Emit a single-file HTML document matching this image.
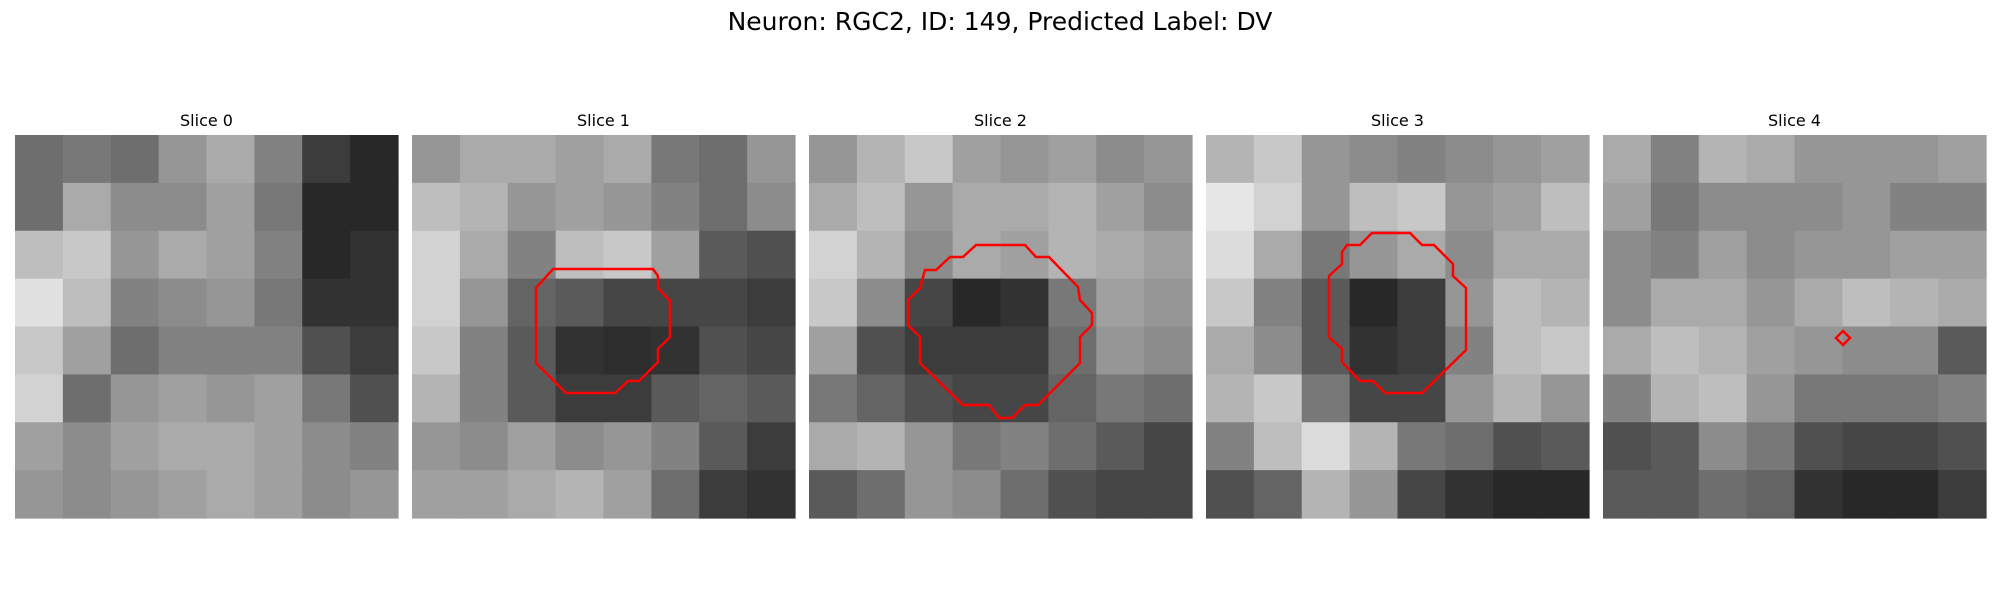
<!DOCTYPE html>
<html><head><meta charset="utf-8"><style>
body{margin:0;background:#fff;width:2000px;height:600px;overflow:hidden;font-family:"Liberation Sans","DejaVu Sans",sans-serif}
</style></head><body>
<svg id="fig" width="2000" height="600" xmlns="http://www.w3.org/2000/svg">
<text x="1000" y="30" text-anchor="middle" font-size="25" font-family="DejaVu Sans, sans-serif" fill="#000">Neuron: RGC2, ID: 149, Predicted Label: DV</text>
<g id="panels"></g>
</svg>
<script>
const sliceTitles = ["Slice 0","Slice 1","Slice 2","Slice 3","Slice 4"];
const slice0 = [
[110,120,110,150,170,130,60,40],[110,170,140,140,160,120,40,40],[190,200,150,170,160,130,40,50],[225,190,130,140,150,120,50,50],
[200,160,110,130,130,130,80,60],[210,110,150,160,150,160,120,80],[160,140,160,170,170,160,140,130],[150,140,150,160,170,160,140,150]];
const slice1 = [
[150,170,170,160,170,120,110,150],[190,180,150,160,150,130,110,140],[210,170,130,190,200,160,90,80],[210,150,100,90,70,70,70,60],
[200,130,90,50,45,50,80,70],[180,130,90,60,60,90,100,90],[150,140,160,140,150,130,90,60],[160,160,170,180,160,110,60,50]];
const slice2 = [
[150,180,200,160,150,160,140,150],[170,190,150,170,170,180,160,140],[210,180,140,170,160,180,170,160],[200,140,70,40,50,120,160,150],
[160,80,60,60,60,110,150,140],[120,100,80,70,70,100,120,110],[170,180,150,120,130,110,90,70],[90,110,150,140,110,80,70,70]];
const slice3 = [
[180,200,150,140,130,140,150,160],[230,210,150,190,200,150,160,190],[220,170,120,150,170,140,170,170],[200,130,90,40,60,150,190,180],
[170,140,90,50,60,130,190,200],[180,200,120,70,70,150,180,150],[130,190,220,180,120,110,80,90],[80,100,180,150,70,50,40,40]];
const slice4 = [
[170,130,180,170,150,150,150,160],[160,120,140,140,140,150,130,130],[140,130,160,140,150,150,160,160],[140,170,170,150,170,190,180,170],
[170,190,180,160,150,140,140,90],[130,180,190,150,120,120,120,130],[80,90,140,120,80,70,70,80],[90,90,110,100,50,40,40,60]];
const slices = [slice0,slice1,slice2,slice3,slice4];
const contour1 = [[553,269],[653,269],[658,276],[658,288],[670,301],[670,337],[658,349],[658,362],[639,381],[628,381],[615,393],[566,393],[536,363],[536,288]];
const contour2 = [[976,245],[1025,245],[1036,257],[1049,257],[1078,287],[1080,300],[1092,313],[1092,325],[1080,337],[1080,363],[1038,405],[1025,405],[1012,418],[999,418],[989,405],[963,405],[920,363],[920,337],[908,325],[908,300],[920,288],[925,270],[936,270],[950,257],[963,257]];
const contour3 = [[1372,233],[1410,233],[1422,245],[1434,245],[1453,264],[1453,276],[1466,288],[1466,350],[1422,393],[1385,393],[1373,381],[1360,381],[1342,362],[1342,349],[1329,337],[1329,276],[1342,264],[1342,252],[1347,245],[1360,245]];
const contour4 = [[1843,331],[1850,338],[1843,345],[1836,338]];
const contours = [null,contour1,contour2,contour3,contour4];

const NS="http://www.w3.org/2000/svg";
const g=document.getElementById('panels');
const P0X=15, PSTEP=397, PY=135, PS=383;
slices.forEach((grid,i)=>{
  const px=P0X+PSTEP*i;
  const pg=document.createElementNS(NS,'g');
  
  
  g.appendChild(pg);
  const t=document.createElementNS(NS,'text');
  t.setAttribute('x',px+PS/2);t.setAttribute('y',126);
  t.setAttribute('text-anchor','middle');t.setAttribute('font-size','16');
  t.setAttribute('font-family','DejaVu Sans, sans-serif');
  t.textContent=sliceTitles[i];
  
  
  pg.appendChild(t);
  const n=grid.length, c=PS/n;
  grid.forEach((row,r)=>row.forEach((v,k)=>{
    const rc=document.createElementNS(NS,'rect');
    rc.setAttribute('x',(px+k*c).toFixed(2));rc.setAttribute('y',(PY+r*c).toFixed(2));
    rc.setAttribute('width',(c+0.6).toFixed(2));rc.setAttribute('height',(c+0.6).toFixed(2));
    rc.setAttribute('fill','rgb('+v+','+v+','+v+')');
    
    
    pg.appendChild(rc);
  }));
  if(contours[i]){
    const pl=document.createElementNS(NS,'polygon');
    pl.setAttribute('points',contours[i].map(p=>p.join(',')).join(' '));
    pl.setAttribute('fill','none');pl.setAttribute('stroke','#ff0000');pl.setAttribute('stroke-width','2.5');
    
    
    pg.appendChild(pl);
  }
});
</script>
</body></html>
